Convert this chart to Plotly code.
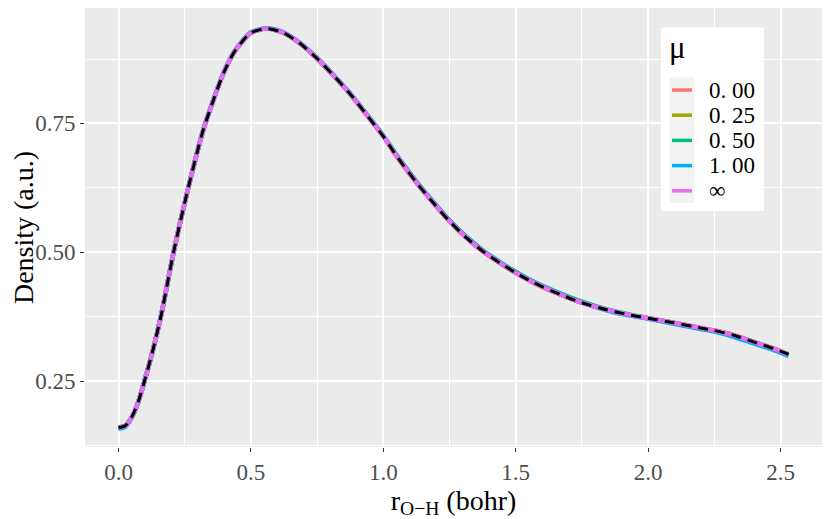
import plotly.graph_objects as go

# r_O-H grid (bohr)
r_oh = [0.000, 0.025, 0.050, 0.075, 0.098, 0.126, 0.160, 0.185, 0.208, 0.236,
        0.264, 0.295, 0.321, 0.359, 0.397, 0.434, 0.472, 0.500, 0.560, 0.623,
        0.686, 0.750, 0.812, 0.875, 0.938, 1.000, 1.051, 1.127, 1.190, 1.250,
        1.316, 1.378, 1.441, 1.500, 1.567, 1.668, 1.750, 1.845, 1.932, 2.000,
        2.096, 2.197, 2.250, 2.323, 2.398, 2.474, 2.530]

# densities (exact reference, dashed)
density_exact = [0.160, 0.163, 0.180, 0.210, 0.250, 0.302, 0.375, 0.440, 0.500, 0.565,
                 0.626, 0.690, 0.739, 0.796, 0.848, 0.886, 0.912, 0.926, 0.934, 0.926,
                 0.905, 0.876, 0.843, 0.807, 0.766, 0.725, 0.686, 0.634, 0.595, 0.560,
                 0.527, 0.501, 0.479, 0.460, 0.441, 0.418, 0.402, 0.388, 0.378, 0.372,
                 0.363, 0.353, 0.348, 0.339, 0.326, 0.313, 0.302]

density_mu_000 = density_exact
density_mu_025 = density_exact
density_mu_050 = [0.160, 0.163, 0.180, 0.210, 0.250, 0.302, 0.375, 0.440, 0.500, 0.565,
                  0.626, 0.690, 0.739, 0.796, 0.848, 0.886, 0.912, 0.926, 0.934, 0.926,
                  0.905, 0.876, 0.843, 0.807, 0.767, 0.726, 0.688, 0.636, 0.597, 0.562,
                  0.529, 0.503, 0.481, 0.462, 0.443, 0.420, 0.404, 0.389, 0.379, 0.372,
                  0.363, 0.352, 0.347, 0.338, 0.325, 0.311, 0.300]
density_mu_100 = [0.157, 0.161, 0.179, 0.210, 0.250, 0.302, 0.375, 0.440, 0.500, 0.565,
                  0.626, 0.690, 0.740, 0.797, 0.849, 0.887, 0.913, 0.927, 0.935, 0.927,
                  0.906, 0.877, 0.844, 0.808, 0.767, 0.726, 0.687, 0.635, 0.596, 0.561,
                  0.528, 0.502, 0.480, 0.461, 0.442, 0.419, 0.402, 0.387, 0.377, 0.371,
                  0.361, 0.351, 0.346, 0.336, 0.323, 0.310, 0.299]
density_mu_inf = density_exact

mu_labels = ["0. 00", "0. 25", "0. 50", "1. 00", "∞"]
mu_colors = ["#F8766D", "#A3A500", "#00BF7D", "#00B0F6", "#E76BF3"]
mu_series = [density_mu_000, density_mu_025, density_mu_050, density_mu_100, density_mu_inf]

SERIF = "Liberation Serif"

fig = go.Figure()
for lab, col, ys in zip(mu_labels, mu_colors, mu_series):
    fig.add_trace(go.Scatter(x=r_oh, y=ys, mode="lines", name=lab, showlegend=False,
                             line=dict(color=col, width=4.5, shape="spline", smoothing=0.7)))
fig.add_trace(go.Scatter(x=r_oh, y=density_exact, mode="lines", showlegend=False,
                         line=dict(color="black", width=3, dash="10px,7px",
                                   shape="spline", smoothing=0.7)))

axis_common = dict(
    showgrid=True, gridcolor="white", gridwidth=1.8, zeroline=False,
    ticks="outside", ticklen=4, tickwidth=1.1, tickcolor="#333333",
    tickfont=dict(family=SERIF, size=23, color="#4D4D4D"),
    showline=False, automargin=False,
)

fig.update_xaxes(range=[-0.1265, 2.6565], tickvals=[0, 0.5, 1.0, 1.5, 2.0, 2.5],
                 ticktext=["0.0", "0.5", "1.0", "1.5", "2.0", "2.5"],
                 minor=dict(tickvals=[0.25, 0.75, 1.25, 1.75, 2.25], showgrid=True,
                            gridcolor="white", gridwidth=0.9, ticks=""),
                 title=dict(text="r<sub>O−H</sub> (bohr)",
                            font=dict(family=SERIF, size=28, color="black"),
                            standoff=0),
                 **axis_common)
fig.update_yaxes(range=[0.122, 0.974], tickvals=[0.25, 0.5, 0.75],
                 ticktext=["0.25", "0.50", "0.75"],
                 minor=dict(tickvals=[0.125, 0.375, 0.625, 0.875], showgrid=True,
                            gridcolor="white", gridwidth=0.9, ticks=""),
                 title=dict(text="Density (a.u.)",
                            font=dict(family=SERIF, size=28, color="black"),
                            standoff=0),
                 **axis_common)

# legend drawn by hand (page pixel -> paper coords of the panel)
PX0, PX1, PY0, PY1 = 85, 822, 447, 8


def px(sx):
    return (sx - PX0) / (PX1 - PX0)


def py(sy):
    return (PY0 - sy) / (PY0 - PY1)


fig.add_shape(type="rect", xref="paper", yref="paper", x0=px(661), x1=px(764),
              y0=py(211), y1=py(27.5), fillcolor="white", line=dict(width=0), layer="above")
fig.add_shape(type="rect", xref="paper", yref="paper", x0=px(669.5), x1=px(694.5),
              y0=py(203), y1=py(77.5), fillcolor="#F2F2F2", line=dict(width=0), layer="above")
fig.add_annotation(text="μ", xref="paper", yref="paper", x=px(667), y=py(47),
                   xanchor="left", yanchor="middle", showarrow=False,
                   font=dict(family=SERIF, size=31, color="black"))
for i, (lab, col) in enumerate(zip(mu_labels, mu_colors)):
    yk = 90 + 25.2 * i
    fig.add_shape(type="line", xref="paper", yref="paper", x0=px(672), x1=px(692),
                  y0=py(yk), y1=py(yk), line=dict(color=col, width=3.5), layer="above")
    fig.add_annotation(text=lab, xref="paper", yref="paper", x=px(707), y=py(yk),
                       xanchor="left", yanchor="middle", showarrow=False,
                       font=dict(family=SERIF, size=23, color="black"))

# the page adds an 8px body margin, so margins are shifted by 8px
fig.update_layout(
    width=830, height=519,
    margin=dict(l=77, r=16, t=0, b=80),
    paper_bgcolor="white", plot_bgcolor="#EBEBEB",
    font=dict(family=SERIF, color="black"),
)

fig.write_html("out.html")
